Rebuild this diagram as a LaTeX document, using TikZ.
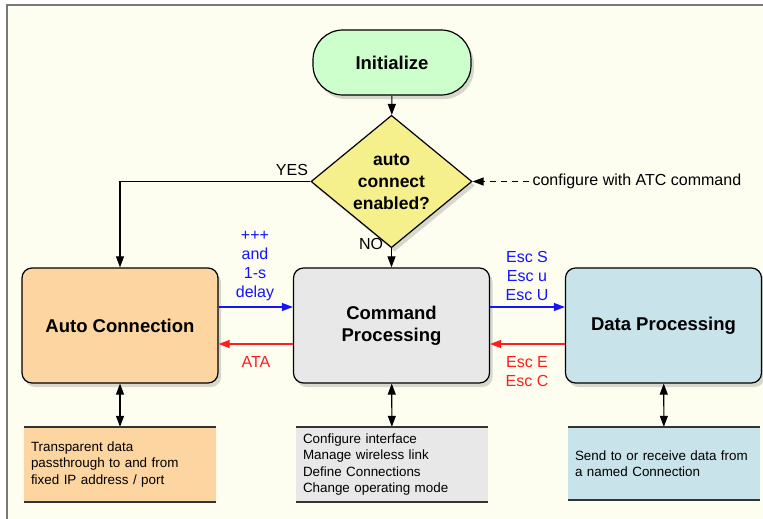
\documentclass[tikz,border=0pt]{standalone}
\usepackage{fontspec}
\setmainfont{Liberation Sans}
\usepackage{xcolor}
\usepackage{tikz}
\usetikzlibrary{shapes, arrows.meta, positioning, shadows}

\definecolor{paper}{RGB}{253,253,240}
\definecolor{framegray}{RGB}{120,120,120}
\definecolor{initgreen}{RGB}{204,255,204}
\definecolor{askyellow}{RGB}{245,240,140}
\definecolor{autoorange}{RGB}{253,213,160}
\definecolor{cmdgray}{RGB}{232,232,232}
\definecolor{datablue}{RGB}{200,228,234}
\definecolor{fwdblue}{RGB}{20,20,255}
\definecolor{backred}{RGB}{255,30,30}

\begin{document}
\begin{tikzpicture}
  [
    x=1pt, y=-1pt,
    Shade/.style={drop shadow={shadow xshift=3pt, shadow yshift=-4pt, opacity=0.3}},
    Start/.style={rectangle, rounded corners=30pt, draw=black, fill=initgreen, line width=1.2pt, minimum width=158pt, minimum height=65pt, font=\fontsize{18.5}{22}\selectfont\bfseries, Shade},
    Ask/.style={diamond, draw=black, fill=askyellow, line width=1.2pt, minimum width=161pt, minimum height=113pt, inner sep=0pt, align=center, font=\fontsize{17.5}{22}\selectfont\bfseries, Shade},
    Block/.style={rectangle, rounded corners=10pt, draw=black, line width=1.2pt, minimum width=196pt, minimum height=115pt, align=center, font=\fontsize{18.5}{22}\selectfont\bfseries, Shade},
    Note/.style={rectangle, minimum width=192pt, minimum height=75pt, text width=178pt, inner xsep=7pt, inner ysep=0pt, align=left, font=\fontsize{13.4}{16.3}\selectfont},
    Label/.style={align=center, font=\fontsize{16}{19}\selectfont},
    Flow/.style={-{Triangle[length=11pt, width=8pt]}, line width=1.1pt},
    Both/.style={{Triangle[length=11pt, width=8pt]}-{Triangle[length=11pt, width=8pt]}, line width=1.1pt},
    Rule/.style={draw=black!80, line width=1.6pt}
  ]
  \useasboundingbox (0,0) rectangle (763,519);
  % Frame
  \fill[paper] (7,5) rectangle (763,519);
  \draw[framegray, line width=2pt] (7,519) -- (7,5) -- (763,5);

  % Nodes (x, y)
  \node[Start] (init) at(392, 62.5) {Initialize};
  \node[Ask] (ask) at(391.5, 181.5) {auto\\connect\\enabled?};
  \node[Block, fill=autoorange] (autoc) at(120, 325.5) {Auto Connection};
  \node[Block, fill=cmdgray] (cmd) at(391.5, 325.5) {Command\\Processing};
  \node[Block, fill=datablue] (data) at(663.5, 325.5) {Data Processing};

  \node[Note, fill=autoorange] (nauto) at(120, 464.5) {Transparent data\\passthrough to and from\\fixed IP address / port};
  \node[Note, fill=cmdgray] (ncmd) at(392, 464.5) {Configure interface\\Manage wireless link\\Define Connections\\Change operating mode};
  \node[Note, fill=datablue, minimum height=73pt] (ndata) at(664, 463.5) {Send to or receive data from\\a named Connection};

  % Labels
  \node[Label] (yes) at(292, 170) {YES};
  \node[Label] (no) at(371, 244) {NO};
  \node[Label, anchor=west] (atc) at(529, 181.5) {configure with ATC command};
  \node[Label, text=fwdblue] (plus) at(255, 266.5) {+++\\and\\1-s\\delay};
  \node[Label, text=backred] (ata) at(256, 362) {ATA};
  \node[Label, text=fwdblue] (escf) at(527, 276) {Esc S\\Esc u\\Esc U};
  \node[Label, text=backred] (escb) at(527, 371.5) {Esc E\\Esc C};

  % Lines
  % start -> decision
  \path [Flow, draw] (init) -- (ask);
  % YES -> auto connection
  \path [Flow, draw] (ask.west) -| (autoc.north);
  % NO -> command processing
  \path [Flow, draw] (ask.south) -- (cmd.north);
  % ATC setting
  \path [Flow, draw, dash pattern=on 6pt off 5pt] (atc.west) -- (ask.east);
  % auto <-> command
  \path [Flow, draw=fwdblue] ([yshift=18.5pt]autoc.east) -- ([yshift=18.5pt]cmd.west);
  \path [Flow, draw=backred] ([yshift=-18.5pt]cmd.west) -- ([yshift=-18.5pt]autoc.east);
  % command <-> data
  \path [Flow, draw=fwdblue] ([yshift=18.5pt]cmd.east) -- ([yshift=18.5pt]data.west);
  \path [Flow, draw=backred] ([yshift=-18.5pt]data.west) -- ([yshift=-18.5pt]cmd.east);
  % blocks <-> notes
  \path [Both, draw] (autoc) -- (nauto);
  \path [Both, draw] (cmd) -- (ncmd);
  \path [Both, draw] (data) -- (ndata);
  % note rules
  \path [Rule] (nauto.north west) -- (nauto.north east) (nauto.south west) -- (nauto.south east);
  \path [Rule] (ncmd.north west) -- (ncmd.north east) (ncmd.south west) -- (ncmd.south east);
  \path [Rule] (ndata.north west) -- (ndata.north east) (ndata.south west) -- (ndata.south east);

\end{tikzpicture}
\end{document}
